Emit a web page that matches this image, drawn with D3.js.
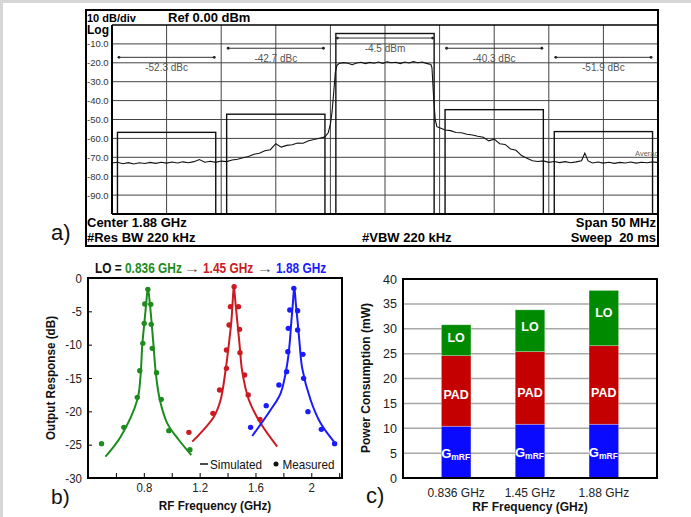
<!DOCTYPE html>
<html>
<head>
<meta charset="utf-8">
<script src="https://cdn.jsdelivr.net/npm/d3@7"></script>
<style>
  body { margin: 0; background: #fff; }
  svg { display: block; font-family: "Liberation Sans", Arial, sans-serif; }
  text { white-space: pre; }
</style>
</head>
<body>
<svg id="fig" width="691" height="517"></svg>
<script>
// ---------- a) spectrum analyzer (MHz offset from 1.88 GHz, dBm) ----------
const spectrum = [
  [-25,-73.0],[-24.5,-72.6],[-24,-73.4],[-23.5,-72.8],[-23,-73.5],[-22.5,-72.9],[-22,-73.3],
  [-21.5,-72.7],[-21,-73.2],[-20.5,-72.6],[-20,-73.1],[-19.5,-72.5],[-19,-73.0],[-18.5,-72.4],
  [-18,-72.9],[-17.5,-72.3],[-17,-71.2],[-16.5,-72.6],[-16,-72.1],[-15.5,-72.7],[-15,-72.0],
  [-14.5,-72.3],[-14,-71.4],[-13.5,-71.0],[-13,-70.2],[-12.5,-69.6],[-12,-68.4],[-11.5,-67.9],
  [-11,-66.5],[-10.5,-66.0],[-10,-62.8],[-9.5,-64.6],[-9,-63.7],[-8.5,-63.4],[-8,-62.4],
  [-7.5,-62.6],[-7,-61.2],[-6.5,-60.6],[-6,-59.9],[-5.5,-59.2],[-5.2,-57.0],[-5,-52.5],
  [-4.85,-46.0],[-4.7,-36.0],[-4.55,-25.0],[-4.4,-21.3],[-4.2,-20.4],[-3.8,-19.9],[-3.4,-20.2],
  [-3,-21.0],[-2.6,-20.1],[-2.2,-19.7],[-1.8,-20.4],[-1.4,-19.8],[-1,-20.2],[-0.6,-19.6],
  [-0.2,-20.3],[0.2,-19.5],[0.6,-20.0],[1,-19.7],[1.4,-20.4],[1.8,-19.6],[2.2,-20.1],
  [2.6,-19.4],[3,-20.0],[3.4,-19.6],[3.8,-20.3],[4.2,-20.9],[4.3,-22.5],[4.45,-38.0],
  [4.6,-50.0],[4.75,-53.8],[5,-54.4],[5.5,-55.6],[6,-55.9],[6.5,-56.9],[7,-57.0],[7.5,-57.8],
  [8,-58.2],[8.5,-58.9],[9,-59.4],[9.5,-61.3],[10,-60.4],[10.5,-62.8],[11,-63.2],[11.5,-65.6],
  [12,-66.3],[12.5,-69.1],[13,-70.5],[13.5,-71.8],[14,-72.2],[14.5,-71.9],[15,-72.7],
  [15.5,-72.2],[16,-72.8],[16.5,-72.3],[17,-72.9],[17.5,-72.4],[18,-71.8],[18.3,-67.8],
  [18.6,-71.9],[19,-73.0],[19.5,-72.5],[20,-73.1],[20.5,-72.6],[21,-73.2],[21.5,-72.7],
  [22,-73.0],[22.5,-72.5],[23,-73.1],[23.5,-72.6],[24,-72.9],[24.5,-72.4],[25,-72.8]
];
const specTicks = [-10, -20, -30, -40, -50, -60, -70, -80, -90];
const channelLo = [-24.5, -14.5, -4.5, 5.5, 15.5];
const channelHi = [-15.5, -5.5, 4.5, 14.5, 24.5];
const channelPower = [-56.8, -47.2, -4.5, -44.8, -56.4];
const channelLabels = ["-52.3 dBc", "-42.7 dBc", "-4.5 dBm", "-40.3 dBc", "-51.9 dBc"];

// ---------- b) output response ----------
const greenSim = [[0.525,-26.8],[0.634,-23.8],[0.753,-18.3],[0.776,-14.8],[0.789,-10.0],[0.805,-6.5],
  [0.817,-3.8],[0.829,-1.5],[0.843,-3.8],[0.855,-6.5],[0.869,-10.0],[0.887,-14.5],[0.915,-18.3],
  [0.968,-21.8],[1.051,-24.3],[1.14,-26.55]];
const redSim = [[1.147,-24.55],[1.302,-20.8],[1.35,-18.3],[1.386,-13.8],[1.41,-9.8],[1.427,-6.55],
  [1.436,-3.8],[1.445,-1.2],[1.457,-3.8],[1.47,-6.55],[1.486,-10.0],[1.505,-14.0],[1.553,-18.3],
  [1.637,-21.8],[1.756,-25.3]];
const blueSim = [[1.577,-23.7],[1.708,-19.8],[1.78,-17.3],[1.828,-12.8],[1.845,-9.8],[1.857,-6.55],
  [1.868,-3.8],[1.878,-1.4],[1.889,-3.8],[1.902,-6.55],[1.916,-9.8],[1.935,-13.55],[1.995,-18.3],
  [2.067,-21.8],[2.162,-24.55]];
const greenMeas = [[0.829,-1.7],[0.807,-3.9],[0.85,-3.95],[0.803,-6.8],[0.853,-6.95],[0.793,-9.8],
  [0.86,-10.55],[0.771,-13.9],[0.891,-14.2],[0.753,-17.9],[0.925,-18.2],[0.657,-22.4],[0.979,-22.9],
  [0.497,-24.85],[1.13,-25.75]];
const redMeas = [[1.447,-1.3],[1.421,-4.3],[1.478,-4.3],[1.411,-7.05],[1.486,-7.7],[1.392,-10.8],
  [1.489,-11.2],[1.392,-13.55],[1.522,-14.55],[1.343,-16.8],[1.548,-17.55],[1.295,-20.3],
  [1.632,-21.2],[1.123,-23.15]];
const blueMeas = [[1.875,-1.55],[1.846,-4.8],[1.902,-4.9],[1.835,-7.55],[1.902,-7.8],[1.832,-11.05],
  [1.94,-11.45],[1.823,-14.05],[1.945,-15.05],[1.768,-16.05],[1.677,-19.15],[1.976,-20.05],
  [1.565,-22.4],[2.072,-22.7],[2.167,-24.85]];
const bTicksX = [0.6, 0.8, 1.0, 1.2, 1.4, 1.6, 1.8, 2.0, 2.2];
const bLabelsX = [0.8, 1.2, 1.6, 2.0];
const bTicksY = [0, -5, -10, -15, -20, -25, -30];

// ---------- c) power consumption (mW) ----------
const loFreqs = ["0.836 GHz", "1.45 GHz", "1.88 GHz"];
const gmrfPower = [10.4, 10.8, 10.8];
const padPower = [14.2, 14.6, 15.8];
const loPower = [6.2, 8.4, 11.1];
const cTicksY = [0, 5, 10, 15, 20, 25, 30, 35, 40];

const green = "#1d8c1d", red = "#cc1a22", blue = "#1a1aff";
const svg = d3.select("#fig");

// page frame (gray strips on top and left)
svg.append("rect").attr("x", 0).attr("y", 0).attr("width", 691).attr("height", 3).attr("fill", "#d6d6d6");
svg.append("rect").attr("x", 0).attr("y", 0).attr("width", 3).attr("height", 517).attr("fill", "#d6d6d6");

// narrow text helper (the b) panel uses a condensed face)
function ntext(g, x, y, str, size, weight, k, anchor, rot) {
  return g.append("text")
    .attr("transform", `translate(${x},${y})${rot ? ` rotate(${rot})` : ""} scale(${k},1)`)
    .attr("text-anchor", anchor || "start")
    .attr("font-size", size)
    .attr("font-weight", weight || "normal")
    .attr("fill", "#111")
    .text(str);
}

// =============== a) ===============
const xa = d3.scaleLinear().domain([-25, 25]).range([112, 658]);
const ya = d3.scaleLinear().domain([0, -100]).range([25, 214]);
const ga = svg.append("g");
const markerDb = [-17.1, -12.3, -6.9, -12.3, -17.1];

ga.append("clipPath").attr("id", "clipA").append("rect")
  .attr("x", xa(-25)).attr("y", ya(0))
  .attr("width", xa(25) - xa(-25)).attr("height", ya(-100) - ya(0));

ga.selectAll(".vgrid")
  .data(d3.range(-20, 25, 5))
  .enter().append("line")
  .attr("x1", d => xa(d)).attr("x2", d => xa(d))
  .attr("y1", ya(0)).attr("y2", ya(-100))
  .attr("stroke", "#444").attr("stroke-width", 1);

ga.selectAll(".hgrid")
  .data(specTicks)
  .enter().append("line")
  .attr("x1", xa(-25)).attr("x2", xa(25))
  .attr("y1", d => ya(d)).attr("y2", d => ya(d))
  .attr("stroke", "#444").attr("stroke-width", 1);

ga.selectAll(".ylab")
  .data(specTicks)
  .enter().append("text")
  .attr("x", 87).attr("y", d => ya(d) + 3.5)
  .attr("font-size", 9.5).attr("fill", "#333")
  .text(d => d.toFixed(1));

// channel boxes
const chIdx = d3.range(channelLo.length);
ga.selectAll(".chan")
  .data(chIdx)
  .enter().append("rect")
  .attr("x", i => xa(channelLo[i]))
  .attr("y", i => ya(channelPower[i]))
  .attr("width", i => xa(channelHi[i]) - xa(channelLo[i]))
  .attr("height", i => ya(-100) - ya(channelPower[i]))
  .attr("fill", "none").attr("stroke", "#111").attr("stroke-width", 1.4);

// power markers
ga.selectAll(".mk")
  .data(chIdx)
  .enter().append("line")
  .attr("x1", i => xa(channelLo[i]) + 1).attr("x2", i => xa(channelHi[i]) - 1)
  .attr("y1", i => ya(markerDb[i])).attr("y2", i => ya(markerDb[i]))
  .attr("stroke", "#333").attr("stroke-width", 1);
chIdx.forEach(i => {
  [channelLo[i], channelHi[i]].forEach(f => {
    ga.append("circle").attr("cx", xa(f) + (f === channelLo[i] ? 1.5 : -1.5))
      .attr("cy", ya(markerDb[i])).attr("r", 1.4).attr("fill", "#222");
  });
});
ga.selectAll(".mklab")
  .data(chIdx)
  .enter().append("text")
  .attr("x", i => xa((channelLo[i] + channelHi[i]) / 2))
  .attr("y", i => ya(markerDb[i]) + 13.5)
  .attr("text-anchor", "middle")
  .attr("font-size", 10).attr("fill", "#555")
  .text(i => channelLabels[i]);

// trace
ga.append("path")
  .datum(spectrum)
  .attr("clip-path", "url(#clipA)")
  .attr("fill", "none").attr("stroke", "#111").attr("stroke-width", 1.1)
  .attr("d", d3.line().x(d => xa(d[0])).y(d => ya(d[1])));

ga.append("text").attr("clip-path", "url(#clipA)")
  .attr("x", xa(22.9)).attr("y", ya(-69.5))
  .attr("font-size", 7.5).attr("fill", "#666").text("Average");

// borders
ga.append("rect").attr("x", 86).attr("y", 10).attr("width", 572).attr("height", 236)
  .attr("fill", "none").attr("stroke", "#000").attr("stroke-width", 2);
ga.append("line").attr("x1", xa(-25)).attr("x2", xa(25)).attr("y1", ya(0)).attr("y2", ya(0))
  .attr("stroke", "#000").attr("stroke-width", 1.5);
ga.append("line").attr("x1", xa(-25)).attr("x2", xa(-25)).attr("y1", ya(0)).attr("y2", ya(-100))
  .attr("stroke", "#000").attr("stroke-width", 2);
ga.append("line").attr("x1", xa(-25)).attr("x2", xa(25)).attr("y1", ya(-100)).attr("y2", ya(-100))
  .attr("stroke", "#000").attr("stroke-width", 2);

// instrument text
const hdr = [
  { x: 87, y: 21.5, s: "10 dB/div", size: 11, a: "start" },
  { x: 168, y: 22, s: "Ref 0.00 dBm", size: 13, a: "start" },
  { x: 87, y: 34, s: "Log", size: 12, a: "start" },
  { x: 87, y: 227, s: "Center 1.88 GHz", size: 13, a: "start" },
  { x: 87, y: 242, s: "#Res BW 220 kHz", size: 13, a: "start" },
  { x: 362, y: 242, s: "#VBW 220 kHz", size: 13, a: "start" },
  { x: 656, y: 227, s: "Span 50 MHz", size: 13, a: "end" },
  { x: 656, y: 242, s: "Sweep  20 ms", size: 13, a: "end" }
];
ga.selectAll(".hdr")
  .data(hdr)
  .enter().append("text")
  .attr("x", d => d.x).attr("y", d => d.y)
  .attr("text-anchor", d => d.a)
  .attr("font-size", d => d.size).attr("font-weight", "bold").attr("fill", "#000")
  .text(d => d.s);

svg.append("text").attr("x", 51).attr("y", 240).attr("font-size", 22).attr("fill", "#111").text("a)");

// =============== b) ===============
const xb = d3.scaleLinear().domain([0.4, 2.22]).range([88, 342]);
const yb = d3.scaleLinear().domain([0, -30]).range([278, 478]);
const gb = svg.append("g");

const axB = gb.append("g").attr("transform", "translate(0,478)")
  .call(d3.axisBottom(xb).tickValues(bTicksX).tickSize(-5).tickPadding(5)
    .tickFormat(d => bLabelsX.includes(d) ? String(d) : ""));
const ayB = gb.append("g").attr("transform", "translate(88,0)")
  .call(d3.axisLeft(yb).tickValues(bTicksY).tickSize(-4).tickPadding(7).tickFormat(d => String(d)));
[axB, ayB].forEach(a => {
  a.select(".domain").remove();
  a.selectAll("line").attr("stroke", "#000");
  a.selectAll("text").attr("font-size", 13).attr("fill", "#222")
    .attr("font-family", "Liberation Sans, Arial, sans-serif")
    .attr("transform", "scale(0.88,1)");
});

const simLine = d3.line().x(d => xb(d[0])).y(d => yb(d[1])).curve(d3.curveCatmullRom.alpha(0.5));
[[greenSim, green], [redSim, red], [blueSim, blue]].forEach(([data, c]) => {
  gb.append("path").datum(data)
    .attr("fill", "none").attr("stroke", c).attr("stroke-width", 2)
    .attr("d", simLine);
});
[[greenMeas, green], [redMeas, red], [blueMeas, blue]].forEach(([data, c]) => {
  gb.selectAll(null).data(data).enter().append("circle")
    .attr("cx", d => xb(d[0])).attr("cy", d => yb(d[1])).attr("r", 2.7)
    .attr("fill", c);
});

gb.append("rect").attr("x", 88).attr("y", 278).attr("width", 254).attr("height", 200)
  .attr("fill", "none").attr("stroke", "#000").attr("stroke-width", 2);

// legend
gb.append("line").attr("x1", 200).attr("x2", 208).attr("y1", 464).attr("y2", 464)
  .attr("stroke", "#111").attr("stroke-width", 1.5);
ntext(gb, 210, 468.5, "Simulated", 13, "normal", 0.9);
gb.append("circle").attr("cx", 276).attr("cy", 464).attr("r", 2.5).attr("fill", "#111");
ntext(gb, 282.5, 468.5, "Measured", 13, "normal", 0.9);

// title, one piece per colour
const titleParts = [
  { x: 95, s: "LO =", c: "#111", w: "bold", k: 0.85 },
  { x: 125, s: "0.836 GHz", c: green, w: "bold", k: 0.85 },
  { x: 184, s: "\u2192", c: "#555", w: "normal", k: 1.15 },
  { x: 203, s: "1.45 GHz", c: red, w: "bold", k: 0.85 },
  { x: 257, s: "\u2192", c: "#555", w: "normal", k: 1.15 },
  { x: 276, s: "1.88 GHz", c: blue, w: "bold", k: 0.85 }
];
titleParts.forEach(p => {
  ntext(gb, p.x, 272.5, p.s, 14, p.w, p.k).attr("fill", p.c);
});

ntext(gb, 215, 510, "RF Frequency (GHz)", 13, "bold", 0.9, "middle");
ntext(gb, 55, 378, "Output Response (dB)", 13, "bold", 0.9, "middle", -90);
svg.append("text").attr("x", 51).attr("y", 504).attr("font-size", 21).attr("fill", "#111").text("b)");

// =============== c) ===============
const xc = d3.scaleBand().domain(loFreqs).range([403, 657]).paddingInner(0.6).paddingOuter(0.52);
const yc = d3.scaleLinear().domain([0, 40]).range([478, 279]);
const gc = svg.append("g");

gc.selectAll(".cgrid")
  .data(cTicksY.slice(1, -1))
  .enter().append("line")
  .attr("x1", 403).attr("x2", 657)
  .attr("y1", d => yc(d)).attr("y2", d => yc(d))
  .attr("stroke", "#a8a8a8").attr("stroke-width", 1.5);

const rows = loFreqs.map((f, i) => ({ f, gmrf: gmrfPower[i], pad: padPower[i], lo: loPower[i] }));
const keys = ["gmrf", "pad", "lo"];
const segColor = { gmrf: "#0a0aff", pad: "#c40000", lo: "#008a00" };
const stacked = d3.stack().keys(keys)(rows);

stacked.forEach(layer => {
  gc.selectAll(null).data(layer).enter().append("rect")
    .attr("x", d => xc(d.data.f))
    .attr("width", xc.bandwidth())
    .attr("y", d => yc(d[1]))
    .attr("height", d => yc(d[0]) - yc(d[1]))
    .attr("fill", segColor[layer.key])
    .attr("stroke", "#ffffff").attr("stroke-opacity", 0.35).attr("stroke-width", 0.8);
});

// segment labels
stacked.forEach(layer => {
  layer.forEach(d => {
    const cx = xc(d.data.f) + xc.bandwidth() / 2;
    const top = yc(d[1]), bot = yc(d[0]);
    if (layer.key === "lo") {
      gc.append("text").attr("x", cx).attr("y", top + 0.4 * (bot - top) + 4.5)
        .attr("text-anchor", "middle").attr("font-size", 12.5).attr("font-weight", "bold")
        .attr("fill", "#fff").text("LO");
    } else if (layer.key === "pad") {
      gc.append("text").attr("x", cx).attr("y", bot - 32 + 4.5)
        .attr("text-anchor", "middle").attr("font-size", 12.5).attr("font-weight", "bold")
        .attr("fill", "#fff").text("PAD");
    } else {
      const t = gc.append("text").attr("x", cx - 0.5).attr("y", (top + bot) / 2 + 5.5)
        .attr("text-anchor", "middle").attr("font-weight", "bold").attr("fill", "#fff");
      t.append("tspan").attr("font-size", 13).text("G");
      t.append("tspan").attr("font-size", 8.5).attr("dy", 2).text("mRF");
    }
  });
});

gc.append("rect").attr("x", 403).attr("y", 279).attr("width", 254).attr("height", 199)
  .attr("fill", "none").attr("stroke", "#000").attr("stroke-width", 2);

const ayC = gc.append("g").attr("transform", "translate(403,0)")
  .call(d3.axisLeft(yc).tickValues(cTicksY).tickSize(0).tickPadding(6));
ayC.select(".domain").remove();
ayC.selectAll("text").attr("font-size", 12.5).attr("fill", "#222")
  .attr("font-family", "Liberation Sans, Arial, sans-serif");

gc.selectAll(".xlab")
  .data(loFreqs)
  .enter().append("text")
  .attr("x", d => xc(d) + xc.bandwidth() / 2)
  .attr("y", 497)
  .attr("text-anchor", "middle").attr("font-size", 12).attr("fill", "#222")
  .text(d => d);

gc.append("text").attr("x", 530).attr("y", 511).attr("text-anchor", "middle")
  .attr("font-size", 12).attr("font-weight", "bold").attr("fill", "#111").text("RF Frequency (GHz)");
gc.append("text").attr("transform", "translate(370,378) rotate(-90)").attr("text-anchor", "middle")
  .attr("font-size", 12).attr("font-weight", "bold").attr("fill", "#111").text("Power Consumption (mW)");
svg.append("text").attr("x", 366).attr("y", 503).attr("font-size", 22).attr("fill", "#111").text("c)");
</script>
</body>
</html>
